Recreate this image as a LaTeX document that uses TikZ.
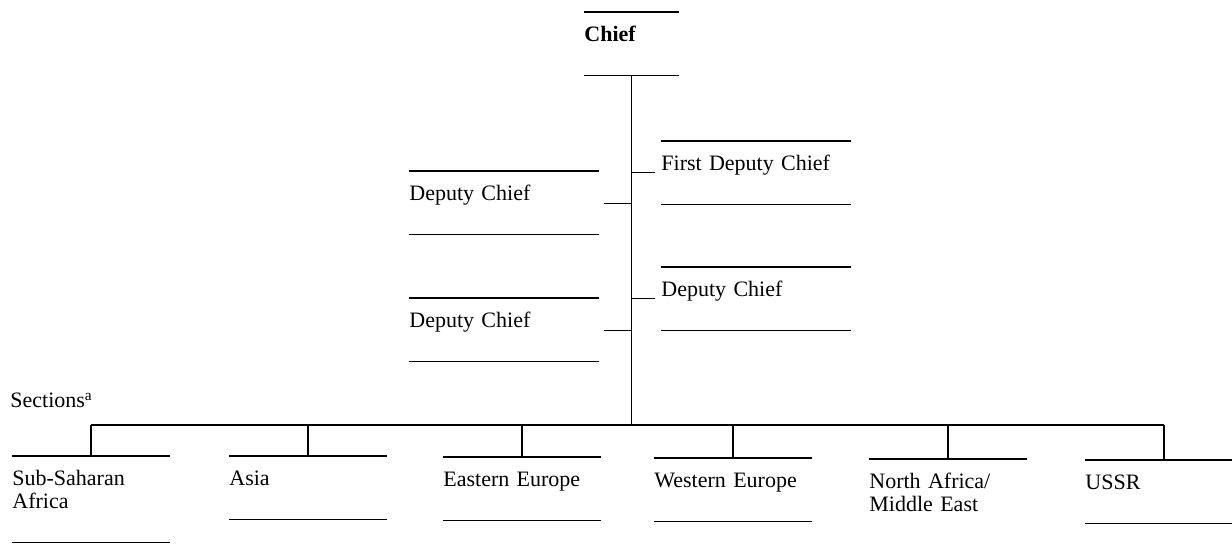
\documentclass[tikz,border=0pt]{standalone}
\usepackage{fontspec}
\setmainfont{Liberation Serif}
\usetikzlibrary{calc}

\tikzset{
    rule/.style={line width=0.6pt},
    post/.style={anchor=north west, inner sep=0pt, text width=#1, align=left,
        text height=14.5pt, text depth=17pt},
    post/.default=78.5pt,
}

\begin{document}
\begin{tikzpicture}[x=0.5pt, y=-0.5pt, font=\fontsize{11}{11.5}\selectfont]
    \useasboundingbox (0, 0) rectangle (1232, 544);

    % the chief and his deputies
    \node[post=47pt, font=\fontsize{11}{11.5}\selectfont\bfseries] (chief) at (584, 12) {Chief};
    \node[post=94.5pt] (fdc) at (661, 141) {First Deputy Chief};
    \node[post=94.5pt] (dcl1) at (409, 171) {Deputy Chief};
    \node[post=94.5pt] (dcr) at (661, 267) {Deputy Chief};
    \node[post=94.5pt] (dcl2) at (409, 298) {Deputy Chief};

    % sections
    \node[anchor=base west, inner sep=0pt] (sect) at (10, 408) {Sections\textsuperscript{a}};
    \node[post, text depth=28.5pt] (ssa) at (12, 456) {Sub-Saharan\\Africa};
    \node[post] (asia) at (229, 456) {Asia};
    \node[post] (ee) at (443, 457) {Eastern Europe};
    \node[post] (we) at (654, 458) {Western Europe};
    \node[post] (name) at (869, 459) {North Africa/\\Middle East};
    \node[post] (ussr) at (1085, 460) {USSR};

    % rules above and below the posts
    \foreach \p in {chief, fdc, dcl1, dcr, dcl2, ssa, asia, ee, we, ussr} {
        \draw[rule] (\p.north west) -- (\p.north east);
        \draw[rule] (\p.south west) -- (\p.south east);
    }
    \draw[rule] (name.north west) -- (name.north east);

    % trunk and bus
    \coordinate (bus) at (chief.south |- 0, 425);
    \draw[rule] (chief.south) -- (bus);
    \draw[rule] (ssa.north |- bus) -- (ussr.north |- bus);
    \foreach \p in {ssa, asia, ee, we, name, ussr}
        \draw[rule] (\p.north |- bus) -- (\p.north);

    % stubs to the deputies
    \draw[rule] ([shift={(-3pt, -1pt)}]fdc.base west) coordinate (s1) -- (s1 -| chief.south);
    \draw[rule] ([shift={(-3pt, -1pt)}]dcr.base west) coordinate (s2) -- (s2 -| chief.south);
    \draw[rule] ([shift={(2.5pt, -1.5pt)}]dcl1.base east) coordinate (s3) -- (s3 -| chief.south);
    \draw[rule] ([shift={(2.5pt, -1.5pt)}]dcl2.base east) coordinate (s4) -- (s4 -| chief.south);
\end{tikzpicture}
\end{document}
